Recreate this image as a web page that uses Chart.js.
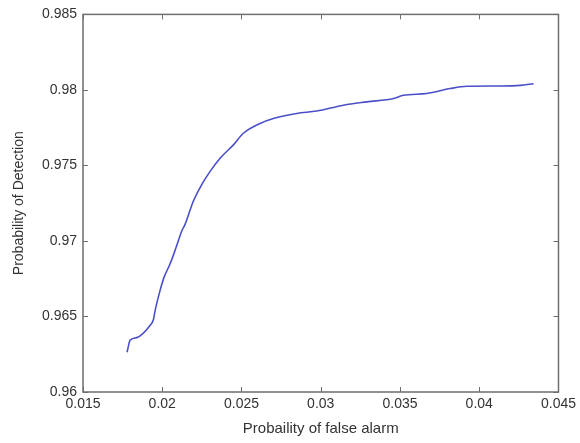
<!DOCTYPE html>
<html>
<head>
<meta charset="utf-8">
<script src="https://cdn.jsdelivr.net/npm/chart.js@4/dist/chart.umd.min.js"></script>
<style>
    html, body { margin: 0; padding: 0; background: #fff; }
    #box { width: 580px; height: 443px; }
</style>
</head>
<body>
<div id="box"><canvas id="roc"></canvas></div>
<script>
// 曲线数据
const pfa = [0.01778, 0.01797, 0.01839, 0.01923, 0.01944, 0.01955, 0.01986, 0.02011, 0.02049, 0.02087,
             0.02123, 0.02144, 0.02196, 0.02249, 0.02302, 0.02365, 0.02449, 0.02512, 0.02617, 0.02701,
             0.02848, 0.02975, 0.03143, 0.03290, 0.03459, 0.03522, 0.03669, 0.03817, 0.03922, 0.04133,
             0.04259, 0.04343];
const pd = [0.96263, 0.96342, 0.96360, 0.96441, 0.96478, 0.96539, 0.96671, 0.96759, 0.96847, 0.96956,
            0.97066, 0.97110, 0.97263, 0.97373, 0.97461, 0.97548, 0.97636, 0.97713, 0.97778, 0.97811,
            0.97844, 0.97860, 0.97899, 0.97921, 0.97943, 0.97965, 0.97976, 0.98009, 0.98024, 0.98026,
            0.98030, 0.98041];

// 刻度
const xTicks = [0.015, 0.02, 0.025, 0.03, 0.035, 0.04, 0.045];
const xTickLabels = ['0.015', '0.02', '0.025', '0.03', '0.035', '0.04', '0.045'];
const yTicks = [0.96, 0.965, 0.97, 0.975, 0.98, 0.985];
const yTickLabels = ['0.96', '0.965', '0.97', '0.975', '0.98', '0.985'];

const axisColor = '#6e6e6e';
const textColor = '#333';

// 画边框和向内的刻度线（MATLAB 风格）
const framePlugin = {
    id: 'frame',
    afterDatasetsDraw(chart) {
        const ctx = chart.ctx;
        const a = chart.chartArea;
        const xs = chart.scales.x;
        const ys = chart.scales.y;
        const len = 5;
        ctx.save();
        ctx.strokeStyle = axisColor;
        ctx.lineWidth = 1.5;
        ctx.strokeRect(a.left, a.top, a.right - a.left, a.bottom - a.top);
        ctx.lineWidth = 1;
        ctx.beginPath();
        xTicks.forEach(v => {
            const px = Math.round(xs.getPixelForValue(v)) + 0.5;
            ctx.moveTo(px, a.bottom); ctx.lineTo(px, a.bottom - len);
            ctx.moveTo(px, a.top); ctx.lineTo(px, a.top + len);
        });
        yTicks.forEach(v => {
            const py = Math.round(ys.getPixelForValue(v)) + 0.5;
            ctx.moveTo(a.left, py); ctx.lineTo(a.left + len, py);
            ctx.moveTo(a.right, py); ctx.lineTo(a.right - len, py);
        });
        ctx.stroke();
        ctx.restore();
    }
};

new Chart(document.getElementById('roc'), {
    type: 'line',
    data: {
        datasets: [{
            data: pfa.map((x, i) => ({ x: x, y: pd[i] })),
            borderColor: '#4b50c8',
            borderWidth: 1.6,
            pointRadius: 0,
            fill: false,
            cubicInterpolationMode: 'monotone'
        }]
    },
    options: {
        responsive: true,
        maintainAspectRatio: false,
        animation: false,
        layout: { padding: { top: 12, right: 21, left: 0, bottom: 0 } },
        plugins: {
            legend: { display: false },
            tooltip: { enabled: false }
        },
        scales: {
            x: {
                type: 'linear',
                min: 0.015,
                max: 0.045,
                afterBuildTicks: s => { s.ticks = xTicks.map(v => ({ value: v })); },
                afterFit: s => { s.height = 51; },
                grid: { display: false, drawTicks: false },
                border: { display: false },
                ticks: {
                    callback: (v, i) => xTickLabels[i],
                    color: textColor,
                    font: { family: 'Liberation Sans', size: 14 },
                    padding: 4,
                    maxRotation: 0,
                    autoSkip: false
                },
                title: {
                    display: true,
                    text: 'Probaility of false alarm',
                    color: textColor,
                    font: { family: 'Liberation Sans', size: 15 },
                    padding: { top: 0, bottom: 5 }
                }
            },
            y: {
                type: 'linear',
                min: 0.96,
                max: 0.985,
                afterBuildTicks: s => { s.ticks = yTicks.map(v => ({ value: v })); },
                afterFit: s => { s.width = 83; },
                grid: { display: false, drawTicks: false },
                border: { display: false },
                ticks: {
                    callback: (v, i) => yTickLabels[i],
                    color: textColor,
                    font: { family: 'Liberation Sans', size: 14 },
                    padding: 6,
                    autoSkip: false
                },
                title: {
                    display: true,
                    text: 'Probability of Detection',
                    color: textColor,
                    font: { family: 'Liberation Sans', size: 14 },
                    padding: { top: 11, bottom: 0 }
                }
            }
        }
    },
    plugins: [framePlugin]
});
</script>
</body>
</html>
